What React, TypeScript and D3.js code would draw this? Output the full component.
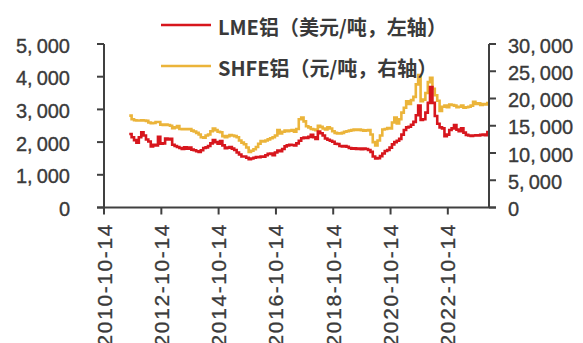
import React from "react";
import * as d3 from "d3";

// Monthly aluminium prices, first value is September 2011
const startMonth = "2011-09-01";

// LME aluminium, USD per tonne (left axis)
const lmeAluminium = [
  2250, 2150, 2060, 1980,
  2150, 2300, 2200, 2080, 2020, 1870, 1920, 1900, 2160, 1950, 1960, 2110,
  2080, 2100, 1920, 1880, 1850, 1820, 1790, 1840, 1800, 1830, 1770, 1750,
  1720, 1700, 1750, 1820, 1840, 1880, 1960, 2060, 2000, 1950, 2030, 1900,
  1810, 1830, 1850, 1800, 1760, 1680, 1620, 1560, 1560, 1520, 1480, 1500,
  1520, 1540, 1540, 1560, 1550, 1600, 1640, 1650, 1600, 1680, 1740, 1720,
  1790, 1870, 1900, 1920, 1910, 1900, 1960, 2040, 2120, 2140, 2130, 2160,
  2220, 2150, 2100, 2320, 2270, 2200, 2110, 2070, 2040, 2010, 1950, 1940,
  1880, 1870, 1880, 1860, 1820, 1800, 1810, 1790, 1800, 1780, 1800, 1790,
  1760, 1700, 1560, 1500, 1510, 1570, 1650, 1730, 1760, 1830, 1930, 2000,
  2040, 2100, 2230, 2370, 2450, 2470, 2530, 2620, 2820, 3120, 2680, 2700,
  2900, 3200, 3680, 3200, 2800, 2560, 2450, 2420, 2180, 2230, 2370, 2420,
  2520, 2380, 2330, 2420, 2290, 2220, 2200, 2190, 2200, 2210, 2200, 2220,
  2230, 2210, 2350,
];

// SHFE aluminium, CNY per tonne (right axis)
const shfeAluminium = [
  16850, 16200, 16000, 15950,
  15950, 16000, 15950, 15900, 15600, 15450, 15500, 15700, 15700, 15200, 15150, 15200,
  15150, 15000, 14550, 14700, 14950, 14400, 14350, 14400, 14350, 14400, 14100, 13950,
  13700, 13400, 12900, 12800, 13200, 13400, 14000, 14500, 14200, 13900, 13800, 13100,
  12900, 13100, 13300, 13200, 13100, 12900, 12300, 11900, 11600, 11000, 10200, 10400,
  10700, 11100, 11700, 12200, 12100, 12300, 12500, 12700, 12900, 13200, 14200, 13600,
  13900, 14100, 14000, 14100, 14200, 13900, 14400, 16200, 16500, 15800, 14900, 14700,
  14400, 14300, 14200, 15000, 14800, 14500, 14300, 14700, 14500, 14000, 13700, 13600,
  13600, 13700, 13900, 14000, 14100, 14200, 14300, 14250, 14300, 14200, 14100, 14150,
  14200, 13400, 12000, 11400, 12300, 13200, 14300, 14400, 14600, 14500, 15600, 16500,
  15400, 16200, 17400, 18300, 19500, 19000, 19700, 20300, 22600, 24300, 19500, 19800,
  21000, 23000, 23800, 21800, 20600, 19600, 17700, 18500, 18700, 18400, 18900, 18800,
  18700, 18400, 18500, 18700, 18300, 18400, 18500, 18700, 19400, 19000, 19100, 18800,
  19000, 18900, 19400,
];

const leftTicks = [0, 1000, 2000, 3000, 4000, 5000];
const rightTicks = [0, 5000, 10000, 15000, 20000, 25000, 30000];
const xTickDates = [
  "2010-10-14",
  "2012-10-14",
  "2014-10-14",
  "2016-10-14",
  "2018-10-14",
  "2020-10-14",
  "2022-10-14",
];
const xDomain = ["2010-10-14", "2024-03-22"];
const seriesNames = ["LME铝（美元/吨，左轴）", "SHFE铝（元/吨，右轴）"];

const W = 583;
const H = 343;
const plot = { left: 104, right: 489, top: 44, bottom: 207.5 };
const axisColor = "#404040";
const textColor = "#3a3a3a";
const lmeColor = "#D7161D";
const shfeColor = "#EBB43A";
const numFont = "'Liberation Sans', Arial, sans-serif";
const cjkFont = "'Noto Sans CJK SC', 'Noto Sans', sans-serif";

const parseDate = d3.utcParse("%Y-%m-%d");

function ThousandsLabel({ value, x, y, anchor }: { value: number; x: number; y: number; anchor: "start" | "end" }) {
  const s = d3.format(",")(value);
  const parts = s.split(",");
  return (
    <text
      x={x}
      y={y}
      textAnchor={anchor}
      dominantBaseline="central"
      fontFamily={numFont}
      fontSize={20}
      fill={textColor}
      stroke={textColor}
      strokeWidth={0.35}
    >
      {parts.map((p, i) => (
        <tspan key={i} dx={i > 0 ? 4 : 0}>
          {p + (i < parts.length - 1 ? "," : "")}
        </tspan>
      ))}
    </text>
  );
}

export default function App() {
  const start = parseDate(startMonth) as Date;
  const dates = lmeAluminium.map((_, i) => d3.utcMonth.offset(start, i));

  const x = d3
    .scaleUtc()
    .domain(xDomain.map((d) => parseDate(d) as Date))
    .range([plot.left, plot.right]);
  const yLeft = d3.scaleLinear().domain([0, 5000]).range([plot.bottom, plot.top]);
  const yRight = d3.scaleLinear().domain([0, 30000]).range([plot.bottom, plot.top]);

  const lmeLine = d3
    .line<number>()
    .x((_, i) => x(dates[i]))
    .y((d) => yLeft(d))
    .curve(d3.curveStepAfter);
  const shfeLine = d3
    .line<number>()
    .x((_, i) => x(dates[i]))
    .y((d) => yRight(d))
    .curve(d3.curveStepAfter);

  const legend = [
    { name: seriesNames[0], color: lmeColor, y: 26 },
    { name: seriesNames[1], color: shfeColor, y: 67 },
  ];

  return (
    <svg
      width={W}
      height={H}
      style={{ position: "absolute", left: 0, top: 0, background: "#fff" }}
    >
      {/* series */}
      <path d={shfeLine(shfeAluminium) || ""} fill="none" stroke={shfeColor} strokeWidth={2.6} strokeLinejoin="miter" />
      <path d={lmeLine(lmeAluminium) || ""} fill="none" stroke={lmeColor} strokeWidth={2.6} strokeLinejoin="miter" />

      {/* axes */}
      <g stroke={axisColor} strokeWidth={2} fill="none">
        <line x1={plot.left} x2={plot.left} y1={plot.top} y2={plot.bottom} />
        <line x1={plot.right} x2={plot.right} y1={plot.top} y2={plot.bottom} />
        <line x1={plot.left - 7} x2={plot.right + 7} y1={plot.bottom} y2={plot.bottom} />
        {leftTicks.map((t) => (
          <line key={"lt" + t} x1={plot.left - 7} x2={plot.left} y1={yLeft(t)} y2={yLeft(t)} />
        ))}
        {rightTicks.map((t) => (
          <line key={"rt" + t} x1={plot.right} x2={plot.right + 7} y1={yRight(t)} y2={yRight(t)} />
        ))}
        {xTickDates.map((d) => {
          const xv = x(parseDate(d) as Date);
          return <line key={"xt" + d} x1={xv} x2={xv} y1={plot.bottom} y2={plot.bottom + 7} />;
        })}
      </g>

      {leftTicks.map((t) => (
        <ThousandsLabel key={"ll" + t} value={t} x={70} y={yLeft(t) + 1.5} anchor="end" />
      ))}
      {rightTicks.map((t) => (
        <ThousandsLabel key={"rl" + t} value={t} x={508} y={yRight(t) + 1.5} anchor="start" />
      ))}

      {xTickDates.map((d) => {
        const xv = x(parseDate(d) as Date);
        return (
          <text
            key={"xl" + d}
            transform={`translate(${xv},223) rotate(-90)`}
            textAnchor="end"
            dominantBaseline="central"
            fontFamily={numFont}
            fontSize={21}
            letterSpacing={1.6}
            fill={textColor}
            stroke={textColor}
            strokeWidth={0.3}
          >
            {d}
          </text>
        );
      })}

      {/* legend */}
      {legend.map((l) => (
        <g key={l.name}>
          <line x1={161} x2={211} y1={l.y - 1} y2={l.y - 1} stroke={l.color} strokeWidth={2.4} />
          <text
            x={218}
            y={l.y}
            dominantBaseline="central"
            fontFamily={cjkFont}
            fontSize={20}
            fontWeight={600}
            fill={textColor}
          >
            {l.name}
          </text>
        </g>
      ))}
    </svg>
  );
}
